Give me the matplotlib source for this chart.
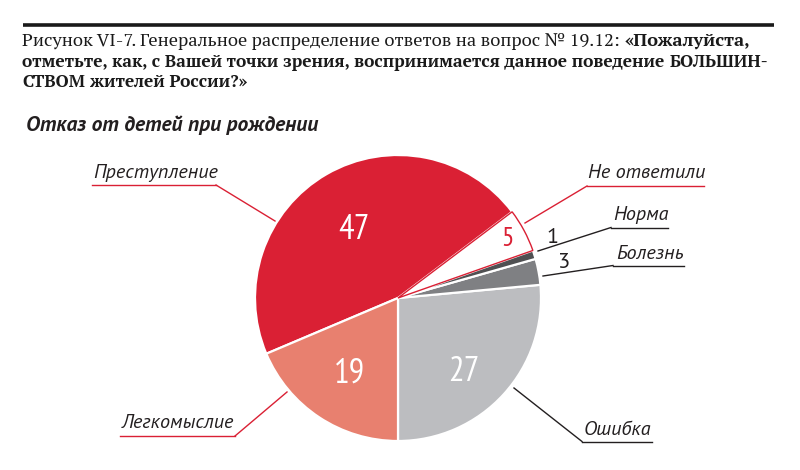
import matplotlib
matplotlib.use("Agg")
import matplotlib.pyplot as plt

W, H = 800, 470

labels = ["Ошибка", "Болезнь", "Норма", "Не ответили", "Преступление", "Легкомыслие"]
values = [27, 3, 1, 5, 47, 19]
colors = ["#bcbdc0", "#7f8083", "#4f5052", "#ffffff", "#da2034", "#e8806f"]

title_lines = [
    [("Рисунок VI-7. Генеральное распределение ответов на вопрос № 19.12:", "normal"),
     ("«Пожалуйста,", "bold")],
    [("отметьте, как, с Вашей точки зрения, воспринимается данное поведение", "bold"),
     ("БОЛЬШИН-", "heavy")],
    [("СТВОМ", "heavy"), ("жителей России?»", "bold")],
]
subtitle = "Отказ от детей при рождении"

RED = "#da2034"


def Y(y):
    # reference pixel rows count from the top
    return H - y


fig = plt.figure(figsize=(8, 4.7), dpi=100)
ax = fig.add_axes([0, 0, 1, 1])
renderer = fig.canvas.get_renderer()

wedges, _ = ax.pie(values, colors=colors, startangle=-90, counterclock=True,
                   center=(398, Y(298)), radius=143,
                   wedgeprops=dict(edgecolor="white", linewidth=1.6))
white = wedges[labels.index("Не ответили")]
white.set_edgecolor(RED)
white.set_linewidth(1.0)
white.set_zorder(3)

ax.set_xlim(0, W)
ax.set_ylim(0, H)
ax.axis("off")


def width_of(s, **kw):
    t = ax.text(0, 0, s, **kw)
    w = t.get_window_extent(renderer).width
    t.remove()
    return w


# title block: line 1 fits 22..748, line 2 fits 22..768
serif = dict(family="PT Serif", color="#1a1a1a")
gap = 5
w1 = sum(width_of(s, fontsize=12, weight=wt, **serif) for s, wt in title_lines[0])
size1 = 12 * (748 - 22 - gap) / w1
w2 = sum(width_of(s, fontsize=12, weight=wt, **serif) for s, wt in title_lines[1])
size2 = min(size1, 12 * (768 - 22 - gap) / w2)
for row, base, fs in zip(title_lines, [46, 67, 87], [size1, size2, size2]):
    x = 22
    for s, wt in row:
        t = ax.text(x, Y(base), s, fontsize=fs, weight=wt, va="baseline", ha="left", **serif)
        x += t.get_window_extent(renderer).width + gap

ax.plot([23, 774], [Y(24.5), Y(24.5)], color="#1a1a1a", lw=2.6, solid_capstyle="butt")

ax.text(26, Y(131), subtitle, family="PT Sans", style="italic", weight="bold",
        fontsize=15.5, color="#231f20", va="baseline")

# category labels with underline and leader
lab = dict(family="PT Sans", style="italic", fontsize=14.5, color="#231f20", va="baseline")
callouts = {
    # label: (text x, baseline, underline y, underline x0, x1, leader start, leader end, colour)
    "Преступление": (93, 178, 185, 92, 216, (216, 185), (275, 221), RED),
    "Не ответили": (588, 178, 186, 587, 704, (587, 186), (525, 223), RED),
    "Норма": (613, 220, 227.5, 611, 668, (611, 227.5), (538, 251), "#231f20"),
    "Болезнь": (616, 259, 265.5, 613, 684, (613, 265.5), (543, 276), "#231f20"),
    "Ошибка": (584, 435, 441.5, 582, 652, (582, 441.5), (514, 388), "#231f20"),
    "Легкомыслие": (122, 428, 436, 120, 235, (235, 436), (287, 392), RED),
}
for name, (tx, tb, uy, ux0, ux1, p0, p1, c) in callouts.items():
    ax.text(tx, Y(tb), name, **lab)
    ax.plot([ux0, ux1], [Y(uy), Y(uy)], color=c, lw=1.0)
    ax.plot([p0[0], p1[0]], [Y(p0[1]), Y(p1[1])], color=c, lw=1.0)

# values on the slices
num = dict(family="PT Sans Narrow", ha="center", va="center")
spots = {
    "Преступление": (353.5, 230, 25, "white"),
    "Не ответили": (507.5, 239, 20, RED),
    "Легкомыслие": (349.5, 373.5, 25, "white"),
    "Ошибка": (463.5, 372, 25, "white"),
}
for name, (x, y, fs, c) in spots.items():
    ax.text(x, Y(y), str(values[labels.index(name)]), fontsize=fs, color=c, **num)

small = dict(family="PT Sans", fontsize=16, color="#231f20", ha="center", va="baseline")
ax.text(553, Y(243), str(values[labels.index("Норма")]), **small)
ax.text(563, Y(268), str(values[labels.index("Болезнь")]), **small)

fig.savefig("out.png", dpi=100)
